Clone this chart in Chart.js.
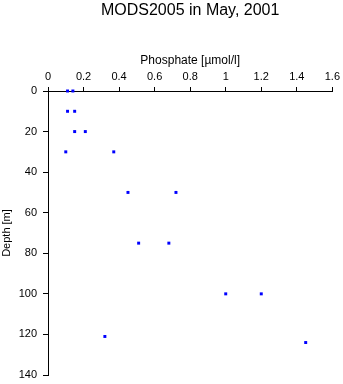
<!DOCTYPE html>
<html>
<head>
<meta charset="utf-8">
<script src="https://cdn.jsdelivr.net/npm/chart.js@4/dist/chart.umd.min.js"></script>
<style>
  html, body { margin: 0; padding: 0; background: #fff; }
  #wrap { width: 343px; height: 384px; }
</style>
</head>
<body>
<div id="wrap"><canvas id="phosphateChart"></canvas></div>
<script>
// Phosphate profile, MODS2005 May 2001
const depths = [0, 0, 10, 10, 20, 20, 30, 30, 50, 50, 75, 75, 100, 100, 121, 124];
const phosphate = [0.11, 0.14, 0.11, 0.15, 0.15, 0.21, 0.10, 0.37, 0.45, 0.72, 0.51, 0.68, 1.0, 1.2, 0.32, 1.45];
const xTicks = [0, 0.2, 0.4, 0.6, 0.8, 1, 1.2, 1.4, 1.6];
const yTicks = [0, 20, 40, 60, 80, 100, 120, 140];

Chart.defaults.color = '#000';
Chart.defaults.font.family = '"Liberation Sans", Arial, sans-serif';
Chart.defaults.font.size = 11;

const canvas = document.getElementById('phosphateChart');

new Chart(canvas, {
  type: 'scatter',
  data: {
    datasets: [
      {
        label: 'Phosphate',
        data: phosphate.map((v, i) => ({ x: v, y: depths[i] })),
        pointStyle: 'rect',
        pointRadius: 2.1,
        pointBorderWidth: 0,
        backgroundColor: '#0000ff',
        borderColor: '#0000ff',
        clip: false
      }
    ]
  },
  options: {
    responsive: true,
    maintainAspectRatio: false,
    animation: false,
    layout: {
      padding: { left: 0, right: 10, top: 0, bottom: 9 }
    },
    plugins: {
      legend: { display: false },
      tooltip: { enabled: false },
      title: {
        display: true,
        fullSize: false,
        text: 'MODS2005 in May, 2001',
        color: '#000',
        font: { size: 16, weight: 'normal' },
        padding: { top: 1, bottom: 0 }
      }
    },
    scales: {
      x: {
        type: 'linear',
        position: 'top',
        min: 0,
        max: 1.6,
        afterBuildTicks: scale => {
          scale.ticks = xTicks.map(v => ({ value: v }));
        },
        afterFit: scale => {
          scale.height = 70.8;
        },
        ticks: {
          padding: 3,
          maxRotation: 0,
          callback: v => String(v)
        },
        grid: {
          drawOnChartArea: false,
          tickLength: 4,
          color: '#000'
        },
        border: { color: '#000', width: 1 },
        title: {
          display: true,
          text: 'Phosphate [µmol/l]',
          font: { size: 12 },
          padding: { top: 33, bottom: 0 }
        }
      },
      y: {
        type: 'linear',
        reverse: true,
        min: 0,
        max: 140,
        afterBuildTicks: scale => {
          scale.ticks = yTicks.map(v => ({ value: v }));
        },
        afterFit: scale => {
          scale.width = 48;
          scale.paddingTop = 0;
          scale.paddingBottom = 0;
        },
        ticks: {
          padding: 6,
          callback: v => String(v)
        },
        grid: {
          drawOnChartArea: false,
          tickLength: 5,
          color: '#000'
        },
        border: { color: '#000', width: 1 },
        title: {
          display: true,
          text: 'Depth [m]',
          font: { size: 11 },
          padding: { top: 0, bottom: 0 }
        }
      }
    }
  }
});
</script>
</body>
</html>
